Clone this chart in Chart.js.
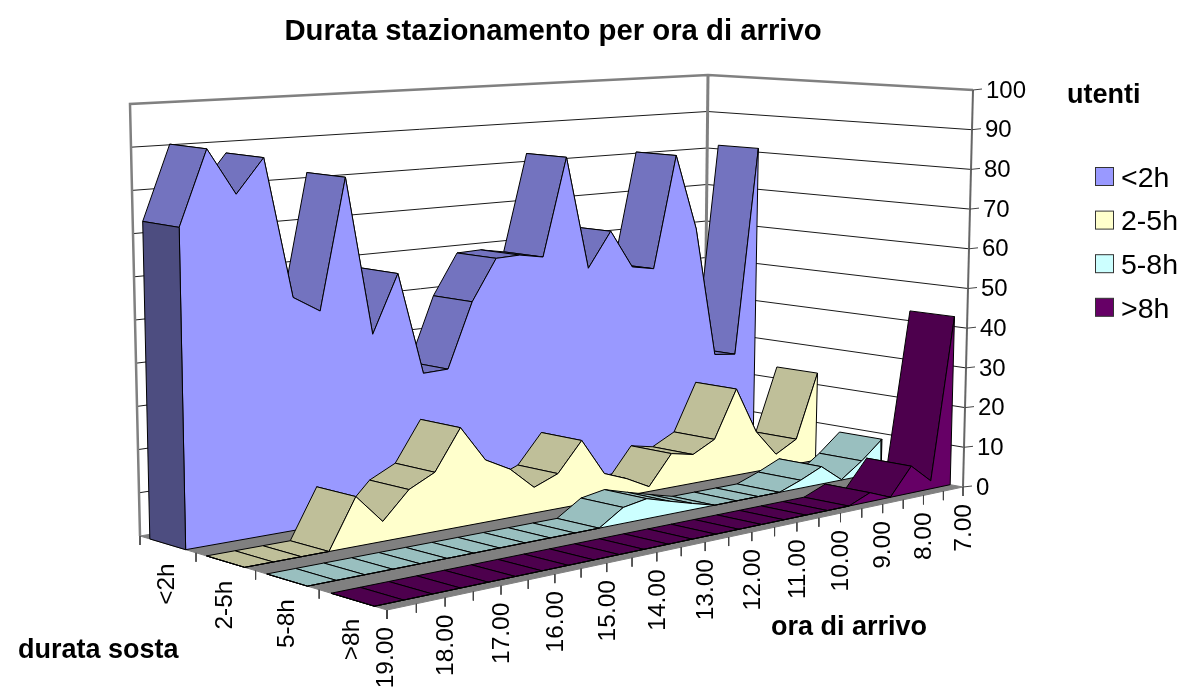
<!DOCTYPE html>
<html><head><meta charset="utf-8">
<style>html,body{margin:0;padding:0;background:#fff}canvas{display:block}</style>
<script src="https://cdn.jsdelivr.net/npm/chart.js@4"></script></head>
<body><canvas id="c" width="1186" height="688"></canvas>
<script>
const seriesNames = ['<2h','2-5h','5-8h','>8h'];
const hourLabels = ['19.00','18.00','17.00','16.00','15.00','14.00','13.00','12.00','11.00','10.00','9.00','8.00','7.00'];
const valueTicks = [0,10,20,30,40,50,60,70,80,90,100];
const under2h = [73.2,90.6,79.7,87.7,54.5,50.6,81.7,43.6,57.5,32.6,32.8,48.6,58.7,58.9,57.8,82.5,53.7,62.6,52.8,51.7,80.8,61,27,26.3,81];
const from2to5h = [0,0,0,0,11.4,4.6,10.9,13.9,23.4,14.8,11.6,6.2,8.5,15.6,6.5,4.2,1.2,8.5,7.3,10.2,22.2,10.3,3.5,6.5,23];
const from5to8h = [0,0,0,0,0,0,0,0,0,0,0,0,3.8,4.8,3.1,1.5,0,0,0,0,2,4.4,0.1,3.9,8.5];
const over8h = [0,0,0,0,0,0,0,0,0,0,0,0,0,0,0,0,0,0,0,0,2.2,0,6.7,2,42.5];
const allSeries = [under2h,from2to5h,from5to8h,over8h];
const frontColors = ['#9999FF','#FFFFCC','#CCFFFF','#660066'];
const topColors = ['#7373BF','#BFBF99','#99BFBF','#4D004D'];
const sideColors = ['#4D4D80','#808066','#668080','#330033'];

const floorCorners = [[140,536],[704,440],[963,487],[387,610]];
const topCorners = [[130,104],[708,75],[973,90],[383,133]];
const targetG=0.2, targetH=-0.12;
function homography(q){
  const [p0,p1,p2,p3]=q;
  const sx=p0[0]-p1[0]+p2[0]-p3[0], sy=p0[1]-p1[1]+p2[1]-p3[1];
  const dx1=p1[0]-p2[0], dx2=p3[0]-p2[0], dy1=p1[1]-p2[1], dy2=p3[1]-p2[1];
  const den=dx1*dy2-dx2*dy1;
  const g=(sx*dy2-dx2*sy)/den, h=(dx1*sy-sx*dy1)/den;
  const a=p1[0]-p0[0]+g*p1[0], b=p3[0]-p0[0]+h*p3[0], c=p0[0];
  const d=p1[1]-p0[1]+g*p1[1], e=p3[1]-p0[1]+h*p3[1], f=p0[1];
  return (u0,w0)=>{
    const su=(1+targetG)*u0/(1+targetG*u0), u=su/((1+g)-g*su);
    const sw=(1+targetH)*w0/(1+targetH*w0), w=sw/((1+h)-h*sw);
    const z=g*u+h*w+1;return [(a*u+b*w+c)/z,(d*u+e*w+f)/z];
  };
}
const floorH=homography(floorCorners), topH=homography(topCorners);
function P(u,w,v){const f=floorH(u,w),t=topH(u,w),k=v/100;return {x:f[0]+(t[0]-f[0])*k,y:f[1]+(t[1]-f[1])*k};}

const polys=[];
function add(pts,fill,stroke,lw){polys.push({pts,fill,stroke,lw});}
const GRAY='#808080';
add([P(0,0,0),P(1,0,0),P(1,0,100),P(0,0,100),P(0,0,0)],'#FFFFFF',null,0);
add([P(1,0,0),P(1,1,0),P(1,1,100),P(1,0,100),P(1,0,0)],'#FFFFFF',null,0);
for(const v of valueTicks.slice(1,-1)){
  add([P(0,0,v),P(1,0,v),P(1,1,v)],null,'#1a1a1a',1);
}
add([P(0,0,0),P(0,0,100),P(1,0,100),P(1,1,100)],null,GRAY,2.5);
add([P(1,0,0),P(1,0,100)],null,GRAY,3);
add([P(1,1,0),P(1,1,100)],null,'#666666',2);
add([P(0,0,0),P(1,0,0),P(1,1,0),P(0,1,0),P(0,0,0)],GRAY,GRAY,1);
for(let i=0;i<25;i++){const p=P(i/24,1,0);add([p,{x:p.x,y:p.y+9}],null,'#444',1);}
for(let s=0;s<=4;s++){const p=P(0,s/4,0);add([p,{x:p.x,y:p.y+9}],null,'#444',1);}
for(const v of valueTicks){const p=P(1,1,v);add([p,{x:p.x+9,y:p.y-1}],null,'#444',1);}
const W0=0.18,W1=0.82;
allSeries.forEach((vals,s)=>{
  const wb=(s+W0)/4,wf=(s+W1)/4,n=vals.length-1;
  for(let i=n-1;i>=0;i--){
    const u0=i/n,u1=(i+1)/n;
    add([P(u0,wf,vals[i]),P(u1,wf,vals[i+1]),P(u1,wb,vals[i+1]),P(u0,wb,vals[i]),P(u0,wf,vals[i])],topColors[s],'#000',1);
  }
  const front=[P(0,wf,0)];
  vals.forEach((v,i)=>front.push(P(i/n,wf,v)));
  front.push(P(1,wf,0));front.push(P(0,wf,0));
  add(front,frontColors[s],'#000',1);
  add([P(0,wb,0),P(0,wf,0),P(0,wf,vals[0]),P(0,wb,vals[0]),P(0,wb,0)],sideColors[s],'#000',1);
});
const datasets=polys.map((p,idx)=>({
  data:p.pts,showLine:true,pointRadius:0,pointHoverRadius:0,tension:0,
  borderColor:p.stroke||'rgba(0,0,0,0)',borderWidth:p.stroke?p.lw:0,
  backgroundColor:p.fill||'rgba(0,0,0,0)',fill:p.fill?'shape':false,
  borderJoinStyle:'miter',order:polys.length-idx
}));

const FONT='"Liberation Sans", Arial, sans-serif';
const textPlugin={id:'texts',afterDraw(ch){
  const c=ch.ctx;c.save();c.fillStyle='#000';c.textBaseline='middle';
  c.font='bold 29.3px '+FONT;c.textAlign='center';c.fillText('Durata stazionamento per ora di arrivo',553,32);
  c.font='bold 27px '+FONT;c.textAlign='left';
  c.fillText('utenti',1067,96);c.fillText('durata sosta',18,651);c.fillText('ora di arrivo',771,628);
  c.font='24px '+FONT;
  for(const v of valueTicks){const p=P(1,1,v);c.fillText(String(v),p.x+13,p.y+1);}
  c.font='28.5px '+FONT;
  seriesNames.forEach((nm,i)=>{
    const y=177+i*43.6;
    c.fillStyle=frontColors[i];c.fillRect(1095.5,y-9.5,18,18);
    c.strokeStyle='#333';c.lineWidth=1;c.strokeRect(1095.5,y-9.5,18,18);
    c.fillStyle='#000';c.fillText(nm,1121,y+2);
  });
  c.font='24.5px '+FONT;
  c.textAlign='right';
  hourLabels.forEach((t,i)=>{const p=P(i/12,1,0);
    c.save();c.translate(p.x+(i==0?-1:1),p.y+17);c.rotate(-Math.PI/2);c.fillText(t,0,0);c.restore();});
  seriesNames.forEach((t,i)=>{const p=P(0,(i+0.5)/4,0);
    c.save();c.translate(p.x,p.y+19);c.rotate(-Math.PI/2);c.fillText(t,0,0);c.restore();});
  c.restore();
}};
new Chart(document.getElementById('c'),{
  type:'scatter',data:{datasets},
  options:{responsive:false,animation:false,events:[],
    layout:{padding:0},
    plugins:{legend:{display:false},title:{display:false},tooltip:{enabled:false}},
    scales:{x:{type:'linear',display:false,min:0,max:1186,offset:false},
            y:{type:'linear',display:false,min:0,max:688,reverse:true,offset:false}}},
  plugins:[textPlugin]
});
</script></body></html>
